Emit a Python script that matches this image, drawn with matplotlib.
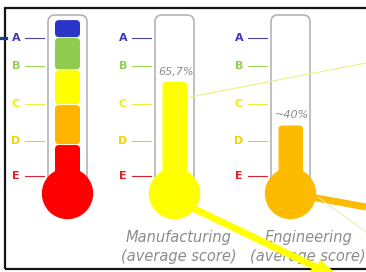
import matplotlib
matplotlib.use('Agg')
import matplotlib.pyplot as plt
from matplotlib.patches import FancyBboxPatch, Ellipse, Rectangle, Polygon

# grade scale (values in % of the thermometer)
grades = ['A', 'B', 'C', 'D', 'E']
grade_levels = [91.5, 75, 52.5, 31, 10.5]
grade_colors = ['#3a3ab4', '#92d050', '#f0f000', '#f5d200', '#e2202c']
grade_line_colors = ['#4646b8', '#9ad45a', '#eeee40', '#f0c040', '#d82232']

# reference thermometer bands
band_edges = [102, 91.5, 72.5, 52, 28.5, 0]
band_colors = ['#2b35c8', '#8fcc50', '#ffff00', '#ffb400', '#ff0000']

# scores
groups = ['Manufacturing', 'Engineering']
scores = [65.7, 40]
score_labels = ['65,7%', '~40%']
score_colors = ['#ffff00', '#fdbb00']

# layout (pixels)
W, H = 366, 272
PX = 1.7        # pixels per %
Y0 = 193.5      # pixel row of 0 %


def yp(p):
    # pixel row -> scale units
    return (Y0 - p) / PX


fig = plt.figure(figsize=(W / 100, H / 100), dpi=100)
ax = fig.add_axes([0, 0, 1, 1])
ax.set_xlim(0, W)
ax.set_ylim(yp(H), yp(0))
ax.axis('off')

# slide frame
ax.add_patch(Rectangle((5, yp(269)), 400, yp(8) - yp(269), facecolor='none',
                       edgecolor='#151515', lw=1.6, zorder=1))
ax.plot([0, 6], [yp(38), yp(38)], color='#1f3c88', lw=2.3, zorder=1)


def rbox(x, y, w, h, r, **kw):
    p = FancyBboxPatch((x, y), w, h, boxstyle='round,pad=0,rounding_size=%s' % r,
                       mutation_aspect=1 / PX, **kw)
    ax.add_patch(p)
    return p


def thermometer(xl, bulb_color):
    # tube + bulb + grade marks
    rbox(xl, 0, 39, yp(15), 7, facecolor='none', edgecolor='#b4b4b4', lw=1.2, zorder=2)
    ax.add_patch(Ellipse((xl + 19.5, 0), 50, 50 / PX, color=bulb_color, zorder=4))
    for g, lev, c, lc in zip(grades, grade_levels, grade_colors, grade_line_colors):
        ax.text(xl - 32, lev, g, color=c, fontsize=8, fontweight='bold',
                ha='center', va='center', zorder=5)
        ax.plot([xl - 23, xl - 4], [lev, lev], color=lc, lw=0.8, zorder=2)


tube_left = [48, 155, 271]

# reference thermometer
thermometer(tube_left[0], band_colors[-1])
for i in range(len(band_colors)):
    top = band_edges[i]
    bot = band_edges[i + 1] + 0.5
    rbox(tube_left[0] + 7, bot, 25, top - bot, 4, color=band_colors[i], lw=0, zorder=3)

# score thermometers
for i in range(len(groups)):
    xl = tube_left[i + 1]
    thermometer(xl, score_colors[i])
    rbox(xl + 7.5, 0, 24.5, scores[i], 4, color=score_colors[i], lw=0, zorder=3)
    ax.text(xl + 21, scores[i] + 3, score_labels[i], color='#8c8c8c', fontsize=8,
            style='italic', ha='center', va='bottom', zorder=5)

label_x = [179, 308]
for i in range(len(groups)):
    ax.text(label_x[i], yp(247), groups[i] + '\n(average score)', color='#8c8c8c',
            fontsize=10.5, style='italic', ha='center', va='center', linespacing=1.35, zorder=5)

# connector lines
ax.plot([190, 366], [yp(97), yp(63)], color='#eef080', lw=0.8, zorder=2.5)
ax.plot([300, 366], [yp(195), yp(207)], color='#fdbb00', lw=5, zorder=3.5,
        solid_capstyle='butt')
ax.plot([318, 366], [yp(197), yp(232)], color='#efe6b0', lw=0.7, zorder=3.5)
ax.plot([180, 322], [yp(202), yp(270)], color='#ffff00', lw=5, zorder=6,
        solid_capstyle='butt')
ax.add_patch(Polygon([(310, yp(272)), (321, yp(261)), (333, yp(272))],
                     closed=True, color='#ffff00', zorder=6))

fig.savefig('out.png', dpi=100, facecolor='white')
